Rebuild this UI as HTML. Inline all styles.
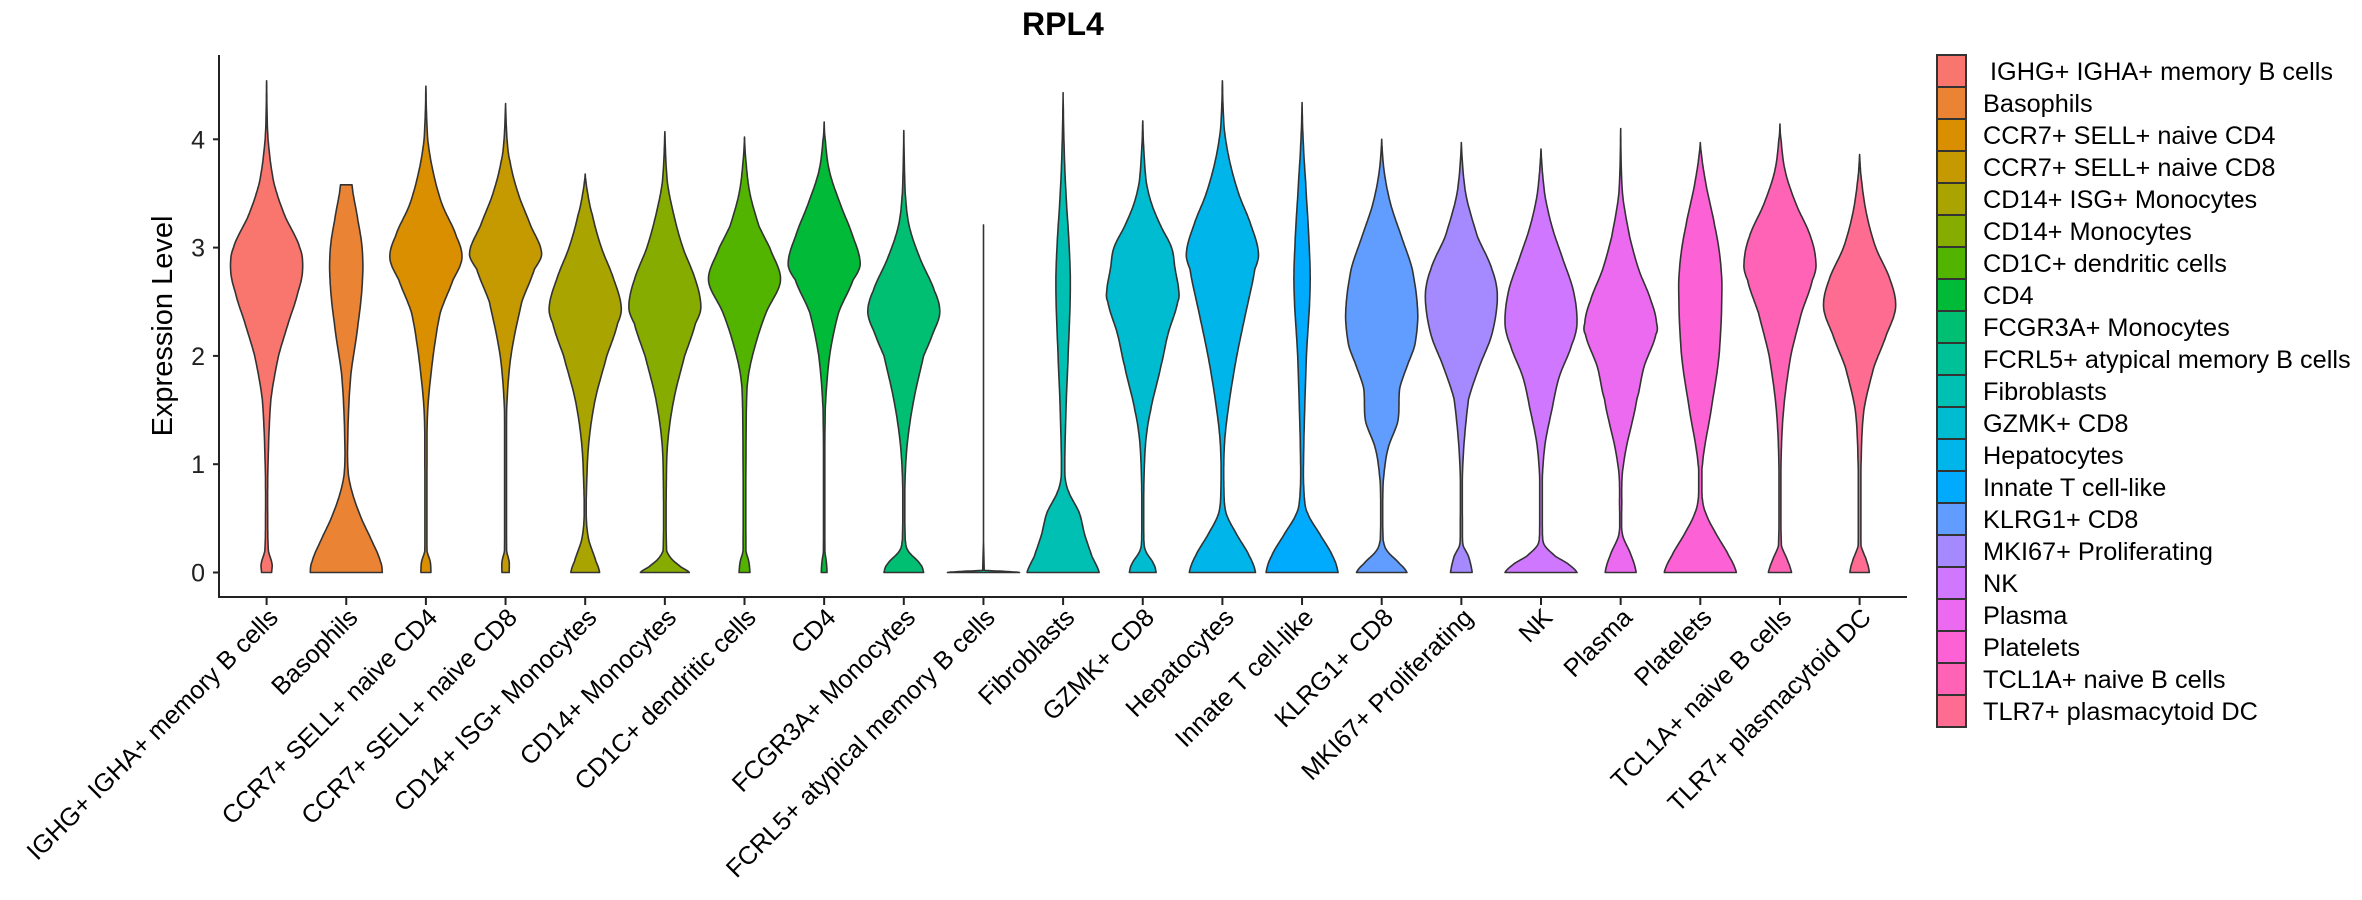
<!DOCTYPE html>
<html><head><meta charset="utf-8"><style>
html,body{margin:0;padding:0;background:#fff;}
svg{display:block;font-family:"Liberation Sans","DejaVu Sans",sans-serif;}
</style></head><body>
<svg id="chart" width="2362" height="900" viewBox="0 0 2362 900">
<text x="1022" y="35" font-size="32" font-weight="bold" fill="#000">RPL4</text>
<text transform="translate(172,326) rotate(-90)" text-anchor="middle" font-size="29" fill="#000">Expression Level</text>
<g id="plot"></g>
<g id="legend"></g>
</svg>
<script>
const categories = ["IGHG+ IGHA+ memory B cells","Basophils","CCR7+ SELL+ naive CD4","CCR7+ SELL+ naive CD8","CD14+ ISG+ Monocytes","CD14+ Monocytes","CD1C+ dendritic cells","CD4","FCGR3A+ Monocytes","FCRL5+ atypical memory B cells","Fibroblasts","GZMK+ CD8","Hepatocytes","Innate T cell-like","KLRG1+ CD8","MKI67+ Proliferating","NK","Plasma","Platelets","TCL1A+ naive B cells","TLR7+ plasmacytoid DC"];
const colors = ["#F8766D","#EB8335","#DA8F00","#C49A00","#A9A400","#87AC00","#53B400","#00BA38","#00BE72","#00C097","#00BFB3","#00BCD0","#00B5EA","#00ABFD","#619CFF","#A58AFF","#CF78FF","#EB6AF0","#FC61D5","#FF63B6","#FF6C91"];
const yTicks = [0,1,2,3,4];
// density profiles: [expression value, relative half-width]
const profiles = [
[[0,.14],[.08,.15],[.2,.05],[.5,.03],[1.0,.04],[1.6,.12],[2.0,.33],[2.3,.6],[2.6,.88],[2.8,1],[3.0,.92],[3.3,.5],[3.6,.2],[4.0,.04],[4.54,0]],
[[0,1],[.1,.95],[.3,.7],[.5,.42],[.7,.2],[.9,.06],[1.2,.04],[1.8,.12],[2.3,.33],[2.7,.45],[3.0,.44],[3.3,.3],[3.58,.16]],
[[0,.14],[.1,.12],[.2,.03],[1.0,.03],[1.5,.05],[2.0,.2],[2.4,.4],[2.7,.75],[2.9,1],[3.1,.85],[3.4,.45],[3.7,.2],[4.0,.05],[4.49,0]],
[[0,.1],[.1,.1],[.2,.03],[1.5,.03],[2.0,.15],[2.5,.45],[2.8,.8],[2.95,1],[3.2,.7],[3.5,.35],[3.8,.12],[4.0,.04],[4.33,0]],
[[0,.4],[.1,.3],[.3,.1],[.5,.03],[.8,.04],[1.2,.1],[1.6,.28],[2.0,.6],[2.3,.9],[2.45,1],[2.7,.8],[3.0,.45],[3.3,.2],[3.5,.07],[3.68,0]],
[[0,.68],[.05,.45],[.12,.2],[.2,.05],[.8,.04],[1.2,.08],[1.6,.25],[2.0,.55],[2.3,.85],[2.45,1],[2.7,.85],[3.0,.5],[3.3,.25],[3.6,.07],[4.07,0]],
[[0,.15],[.1,.12],[.2,.04],[1.5,.05],[1.8,.1],[2.1,.3],[2.4,.6],[2.7,1],[3.0,.7],[3.2,.4],[3.5,.15],[3.8,.04],[4.02,0]],
[[0,.08],[.1,.06],[.2,.02],[1.5,.03],[2.0,.15],[2.4,.4],[2.7,.8],[2.85,1],[3.1,.8],[3.4,.45],[3.7,.15],[4.0,.03],[4.16,0]],
[[0,.55],[.08,.45],[.2,.12],[.3,.04],[.8,.03],[1.2,.1],[1.6,.28],[2.0,.55],[2.2,.8],[2.4,1],[2.6,.85],[2.9,.45],[3.2,.15],[3.5,.04],[4.08,0]],
[[0,1],[.01,.6],[.02,.02],[3.21,0]],
[[0,1],[.15,.8],[.35,.6],[.55,.45],[.75,.15],[.9,.05],[1.5,.08],[2.0,.14],[2.6,.2],[3.0,.17],[3.5,.08],[3.9,.03],[4.43,0]],
[[0,.37],[.08,.3],[.2,.08],[.3,.03],[.8,.03],[1.2,.08],[1.5,.22],[1.9,.5],[2.2,.7],[2.5,.97],[2.6,1],[2.8,.9],[3.0,.8],[3.2,.5],[3.4,.25],[3.6,.1],[3.9,.03],[4.17,0]],
[[0,.92],[.15,.75],[.35,.4],[.55,.1],[.8,.04],[1.2,.06],[1.6,.2],[2.0,.4],[2.4,.65],[2.8,.9],[2.95,1],[3.2,.8],[3.5,.45],[3.8,.2],[4.1,.05],[4.54,0]],
[[0,1],[.15,.85],[.35,.5],[.55,.15],[.7,.06],[1.0,.04],[2.0,.12],[2.6,.22],[3.0,.2],[3.6,.1],[4.0,.03],[4.34,0]],
[[0,.7],[.08,.5],[.2,.15],[.3,.04],[.7,.03],[.9,.06],[1.15,.18],[1.4,.45],[1.7,.5],[1.9,.7],[2.1,.92],[2.4,1],[2.8,.85],[3.1,.55],[3.4,.25],[3.7,.07],[4.0,0]],
[[0,.3],[.15,.2],[.25,.05],[.4,.03],[1.0,.04],[1.6,.2],[1.9,.5],[2.2,.85],[2.55,1],[2.8,.85],[3.1,.45],[3.5,.12],[3.97,0]],
[[0,1],[.08,.75],[.15,.4],[.25,.1],[.35,.04],[.9,.04],[1.2,.12],[1.5,.3],[1.8,.5],[2.1,.85],[2.3,1],[2.6,.9],[2.9,.6],[3.2,.3],[3.5,.1],[3.91,0]],
[[0,.43],[.15,.3],[.35,.05],[.6,.03],[1.0,.08],[1.6,.45],[1.9,.65],[2.2,.98],[2.3,1],[2.5,.85],[2.8,.5],[3.1,.25],[3.5,.05],[4.1,0]],
[[0,1],[.15,.8],[.35,.45],[.55,.15],[.7,.05],[1.0,.06],[1.5,.3],[2.0,.52],[2.6,.6],[2.9,.55],[3.2,.4],[3.6,.15],[3.97,0]],
[[0,.32],[.12,.2],[.25,.04],[1.0,.03],[1.5,.1],[2.0,.3],[2.4,.6],[2.7,.9],[2.85,1],[3.1,.85],[3.4,.45],[3.7,.15],[4.0,.03],[4.14,0]],
[[0,.27],[.1,.2],[.25,.04],[1.0,.04],[1.5,.12],[1.9,.4],[2.2,.75],[2.45,1],[2.7,.85],[3.0,.45],[3.3,.2],[3.6,.06],[3.86,0]]
];
const NS="http://www.w3.org/2000/svg";
const X0=266.6, DX=79.65, Y0=572.5, DY=108.3, HW=36;
function xPos(i){return X0+i*DX;}
function yPos(v){return Y0-v*DY;}
function mk(tag,attrs,parent){const e=document.createElementNS(NS,tag);for(const k in attrs)e.setAttribute(k,attrs[k]);parent.appendChild(e);return e;}
const plot=document.getElementById('plot');
function smooth(k){
  const out=[];
  for(let i=0;i<k.length-1;i++){
    const p0=k[Math.max(i-1,0)],p1=k[i],p2=k[i+1],p3=k[Math.min(i+2,k.length-1)];
    const lo=Math.min(p1[1],p2[1]),hi=Math.max(p1[1],p2[1]);
    for(let s=0;s<12;s++){const t=s/12,t2=t*t,t3=t2*t;
      const f=(a,b,c,d)=>0.5*(2*b+(-a+c)*t+(2*a-5*b+4*c-d)*t2+(-a+3*b-3*c+d)*t3);
      let w=f(p0[1],p1[1],p2[1],p3[1]);
      w=Math.max(lo*0.9,Math.min(hi*1.05,w));
      out.push([p1[0]+(p2[0]-p1[0])*t,Math.max(0,w)]);}
  }
  out.push(k[k.length-1]);return out;
}
profiles.forEach((prof,i)=>{
  const pts=smooth(prof), cx=xPos(i);
  const left=pts.map(p=>[cx-p[1]*HW,yPos(p[0])]);
  const right=pts.slice().reverse().map(p=>[cx+p[1]*HW,yPos(p[0])]);
  const d='M'+left.concat(right).map(p=>p[0].toFixed(1)+','+p[1].toFixed(1)).join('L')+'Z';
  const path=mk('path',{d:d,fill:colors[i],stroke:'#333',"stroke-width":1.6,"stroke-linejoin":"round"},plot);
  
  
});
const ya=mk('line',{x1:219,y1:55,x2:219,y2:598,stroke:'#222',"stroke-width":2},plot);


const xa=mk('line',{x1:218,y1:597,x2:1907,y2:597,stroke:'#222',"stroke-width":2},plot);


yTicks.forEach(v=>{
  const t=mk('line',{x1:213,y1:yPos(v),x2:219,y2:yPos(v),stroke:'#222',"stroke-width":2},plot);
  
  
  const l=mk('text',{x:205,y:yPos(v)+9,"text-anchor":"end","font-size":25,fill:'#222'},plot);
  l.textContent=v;
  
  
});
categories.forEach((c,i)=>{
  const cx=xPos(i);
  const t=mk('line',{x1:cx,y1:597,x2:cx,y2:605,stroke:'#222',"stroke-width":2},plot);
  
  
  const px=cx+13, py=619;
  const l=mk('text',{x:px,y:py,"text-anchor":"end","font-size":25.3,fill:'#000',transform:`rotate(-45 ${px} ${py})`},plot);
  l.textContent=c;
  
  
});
const leg=document.getElementById('legend');
categories.forEach((c,i)=>{
  const y=55+i*32;
  const r=mk('rect',{x:1937,y:y,width:29,height:32,fill:colors[i],stroke:'#333',"stroke-width":2},leg);
  
  
  const t=mk('text',{x:i===0?1990:1983,y:y+25,"font-size":25.3,fill:'#000'},leg);
  t.textContent=c;
  
  
});
</script>
</body></html>
